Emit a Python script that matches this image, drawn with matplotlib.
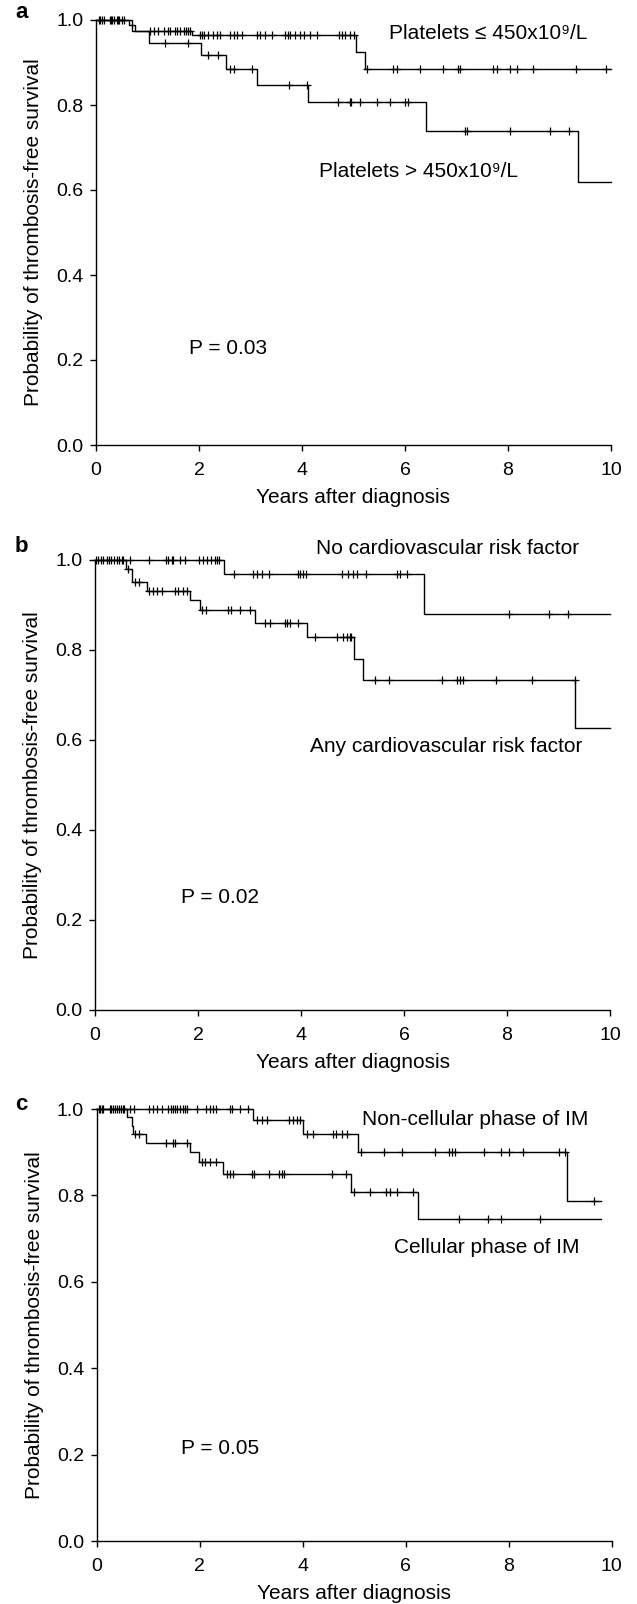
import numpy as np
import matplotlib
matplotlib.use("Agg")
import matplotlib.pyplot as plt

plt.rcParams["font.family"] = ["Liberation Sans", "DejaVu Sans"]

# ---- panel a: platelet count ----
a_low_times = [0, 0.65, 0.76, 1.86, 5.05, 5.22]
a_low_surv = [1.0, 0.988, 0.975, 0.965, 0.925, 0.885]
a_low_end = 10.0
a_low_cens = [0.05, 0.08, 0.11, 0.27, 0.31, 0.35, 0.40, 0.45, 0.50, 0.54,
              1.05, 1.13, 1.21, 1.32, 1.39, 1.44, 1.53, 1.57, 1.63, 1.70, 1.75, 1.79, 1.83,
              2.02, 2.05, 2.10, 2.18, 2.28, 2.34, 2.40, 2.60, 2.67, 2.73, 2.83, 3.12, 3.18,
              3.28, 3.41, 3.67, 3.72, 3.77, 3.86, 3.96, 4.04, 4.16, 4.30, 4.71, 4.77, 4.83,
              4.93, 5.01, 5.27, 5.77, 5.84, 6.29, 6.74, 7.02, 7.07, 7.71, 7.78, 8.04, 8.17,
              8.49, 9.33, 9.90]

a_high_times = [0, 0.70, 1.02, 2.04, 2.52, 3.12, 4.12, 6.41, 9.35]
a_high_surv = [1.0, 0.975, 0.947, 0.918, 0.885, 0.847, 0.808, 0.740, 0.618]
a_high_end = 10.0
a_high_cens = [0.15, 0.30, 0.42, 1.34, 1.79, 2.18, 2.36, 2.60, 2.68, 3.03, 3.75, 4.09,
               4.69, 4.93, 4.96, 5.13, 5.45, 5.71, 6.00, 6.06, 7.17, 7.20, 8.04, 8.82, 9.19]

# ---- panel b: cardiovascular risk factors ----
b_no_times = [0, 2.50, 6.39]
b_no_surv = [1.0, 0.969, 0.88]
b_no_end = 10.0
b_no_cens = [0.02, 0.06, 0.11, 0.16, 0.23, 0.28, 0.32, 0.37, 0.42, 0.47, 0.52, 0.55, 0.67,
             1.04, 1.38, 1.42, 1.49, 1.52, 1.65, 1.75, 2.01, 2.09, 2.17, 2.25, 2.33, 2.37,
             2.41, 2.70, 3.07, 3.14, 3.24, 3.38, 3.95, 3.99, 4.04, 4.10, 4.79, 4.92, 5.00,
             5.08, 5.26, 5.86, 5.92, 6.05, 8.03, 8.82, 9.19]

b_any_times = [0, 0.61, 0.71, 1.00, 1.84, 2.04, 3.11, 4.11, 5.03, 5.20, 9.33]
b_any_surv = [1.0, 0.981, 0.952, 0.932, 0.911, 0.890, 0.861, 0.828, 0.781, 0.733, 0.627]
b_any_end = 10.0
b_any_cens = [0.65, 0.78, 0.86, 1.04, 1.12, 1.20, 1.31, 1.55, 1.62, 1.70, 1.79, 2.08, 2.16,
              2.59, 2.65, 2.82, 3.01, 3.30, 3.40, 3.69, 3.73, 3.79, 3.95, 4.27, 4.69, 4.82,
              4.89, 4.95, 4.98, 5.44, 5.71, 6.73, 7.02, 7.09, 7.15, 7.79, 8.48, 9.32]

# ---- panel c: phase of IM ----
c_non_times = [0, 3.03, 4.00, 5.08, 9.13]
c_non_surv = [1.0, 0.975, 0.943, 0.90, 0.786]
c_non_end = 9.80
c_non_cens = [0.04, 0.07, 0.10, 0.13, 0.26, 0.29, 0.33, 0.36, 0.39, 0.44, 0.47, 0.51, 0.53,
              0.65, 0.72, 1.01, 1.09, 1.17, 1.27, 1.39, 1.44, 1.48, 1.52, 1.57, 1.62, 1.67,
              1.72, 1.75, 1.96, 2.13, 2.20, 2.27, 2.33, 2.59, 2.64, 2.79, 2.95, 3.11, 3.21,
              3.32, 3.74, 3.82, 3.89, 3.95, 4.08, 4.21, 4.60, 4.66, 4.76, 4.86, 5.13, 5.59,
              5.93, 6.57, 6.85, 6.90, 6.96, 7.52, 7.85, 8.00, 8.29, 8.99, 9.10, 9.66]

c_cell_times = [0, 0.60, 0.68, 0.71, 0.97, 1.82, 1.99, 2.45, 4.94, 6.25]
c_cell_surv = [1.0, 0.981, 0.96, 0.943, 0.921, 0.90, 0.878, 0.85, 0.808, 0.746]
c_cell_end = 9.80
c_cell_cens = [0.75, 0.83, 1.35, 1.48, 1.52, 1.75, 2.04, 2.11, 2.20, 2.33, 2.53, 2.59, 2.66,
               3.01, 3.06, 3.34, 3.55, 3.60, 3.64, 4.57, 4.84, 5.00, 5.31, 5.63, 5.69, 5.83,
               6.14, 7.04, 7.61, 7.85, 8.61]

x_ticks = [0, 2, 4, 6, 8, 10]
y_ticks = [0.0, 0.2, 0.4, 0.6, 0.8, 1.0]
p_values = ["P = 0.03", "P = 0.02", "P = 0.05"]
panel_letters = ["a", "b", "c"]

W, H = 637, 1604
fig = plt.figure(figsize=(W / 100, H / 100), dpi=100)


def add_axes_px(left, top, right, bottom):
    return fig.add_axes([left / W, 1 - bottom / H, (right - left) / W, (bottom - top) / H])


def km(ax, times, surv, end, cens):
    t = list(times) + [end]
    s = list(surv) + [surv[-1]]
    ax.step(t, s, where="post", color="black", lw=1.0, clip_on=False)
    idx = np.searchsorted(times, cens, side="right") - 1
    ax.plot(cens, np.asarray(surv)[idx], ls="none", marker="+", ms=5.5, mew=0.9,
            color="black", clip_on=False)


def style(ax):
    ax.set_xlim(0, 10)
    ax.set_ylim(0, 1)
    ax.set_xticks(x_ticks)
    ax.set_yticks(y_ticks)
    ax.set_yticklabels([f"{v:.1f}" for v in y_ticks])
    for side in ("top", "right"):
        ax.spines[side].set_visible(False)
    for side in ("left", "bottom"):
        ax.spines[side].set_linewidth(1.0)
    ax.tick_params(direction="out", length=4, width=1.0, labelsize=14)
    ax.tick_params(axis="x", pad=8)
    ax.tick_params(axis="y", pad=5)
    ax.set_xlabel("Years after diagnosis", fontsize=15, labelpad=7)
    ax.set_ylabel("Probability of thrombosis-free survival", fontsize=15, labelpad=9.5)


boxes = [(96, 20, 611, 445), (95, 560, 610, 1010), (96.5, 1109, 611.5, 1541)]
letter_y = [13, 546, 1104]
axes = [add_axes_px(*b) for b in boxes]

ax = axes[0]
km(ax, a_low_times, a_low_surv, a_low_end, a_low_cens)
km(ax, a_high_times, a_high_surv, a_high_end, a_high_cens)
ax.text(7.61, 0.969, "Platelets \u2264 450x10\u2079/L", fontsize=15, ha="center", va="center")
ax.text(6.27, 0.643, "Platelets > 450x10\u2079/L", fontsize=15, ha="center", va="center")
ax.text(2.56, 0.228, p_values[0], fontsize=15, ha="center", va="center")

ax = axes[1]
km(ax, b_no_times, b_no_surv, b_no_end, b_no_cens)
km(ax, b_any_times, b_any_surv, b_any_end, b_any_cens)
ax.text(6.85, 1.026, "No cardiovascular risk factor", fontsize=15, ha="center", va="center")
ax.text(6.81, 0.585, "Any cardiovascular risk factor", fontsize=15, ha="center", va="center")
ax.text(2.42, 0.249, p_values[1], fontsize=15, ha="center", va="center")

ax = axes[2]
km(ax, c_non_times, c_non_surv, c_non_end, c_non_cens)
km(ax, c_cell_times, c_cell_surv, c_cell_end, c_cell_cens)
ax.text(7.35, 0.975, "Non-cellular phase of IM", fontsize=15, ha="center", va="center")
ax.text(7.57, 0.68, "Cellular phase of IM", fontsize=15, ha="center", va="center")
ax.text(2.40, 0.214, p_values[2], fontsize=15, ha="center", va="center")

for ax, letter, ly in zip(axes, panel_letters, letter_y):
    style(ax)
    fig.text(21.5 / W, 1 - ly / H, letter, fontsize=16, fontweight="bold",
             ha="center", va="center")

fig.savefig("out.png", dpi=100, facecolor="white")
